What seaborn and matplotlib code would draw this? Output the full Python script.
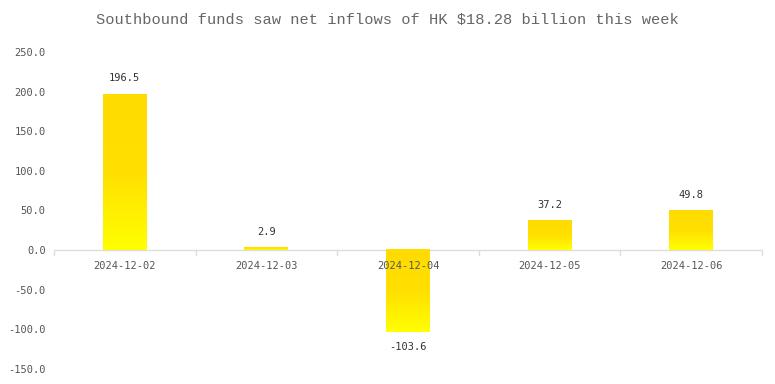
import matplotlib
matplotlib.use("Agg")
import matplotlib.pyplot as plt
import seaborn as sns
import numpy as np
import pandas as pd
from matplotlib.colors import LinearSegmentedColormap

dates = ["2024-12-02", "2024-12-03", "2024-12-04", "2024-12-05", "2024-12-06"]
values = [196.5, 2.9, -103.6, 37.2, 49.8]
yticks = [-150, -100, -50, 0, 50, 100, 150, 200, 250]
title = "Southbound funds saw net inflows of HK $18.28 billion this week"

sns.set_theme(style="white")
plt.rcParams['font.family'] = ['DejaVu Sans Mono']

df = pd.DataFrame({"date": dates, "value": values})
fig = plt.figure(figsize=(7.75, 3.84), dpi=100)
ax = fig.add_axes([54/775, 1-369/384, 708/775, 317/384])
sns.barplot(data=df, x="date", y="value", ax=ax, width=0.31, color="#FFDD00")

cmap = LinearSegmentedColormap.from_list("g", [(0, "#FFFF00"), (0.5, "#FFDF00"), (1, "#FFDC00")])
grad = np.linspace(0, 1, 256).reshape(-1, 1)
for p in ax.patches:
    x0 = p.get_x(); w = p.get_width(); y0 = p.get_y(); h = p.get_height()
    lo, hi = min(y0, y0+h), max(y0, y0+h)
    p.set_facecolor("none"); p.set_edgecolor("none")
    ax.imshow(grad, extent=[x0, x0+w, lo, hi], origin="lower", cmap=cmap,
              aspect="auto", zorder=2, interpolation="bilinear")
ax.set_xlim(-0.5, len(dates)-0.5)
ax.set_ylim(-150, 250)

for i, v in enumerate(values):
    off = 8 if v >= 0 else -7
    ax.annotate(f"{v:.1f}", (i, v), xytext=(0, off), textcoords="offset points",
                ha="center", va="bottom" if v >= 0 else "top", fontsize=7.5, color="#333333")

ax.set_yticks(yticks)
ax.set_yticklabels([f"{t:.1f}" for t in yticks], fontsize=7.5, color="#555555")
ax.tick_params(axis="y", length=0, pad=6)
ax.set_xticks([])
for b in np.arange(-0.5, len(dates), 1):
    ax.plot([b, b], [0, -6], color="#DDDDDD", lw=1, clip_on=False, zorder=1)
ax.axhline(0, color="#DDDDDD", lw=1, zorder=1)
for s in ax.spines.values():
    s.set_visible(False)
ax.set_xlabel(""); ax.set_ylabel("")
ax.grid(False)
fig.text(0.5, 1-20/384, title, ha="center", va="center", fontsize=11.1,
         color="#666666", family=["Liberation Mono"])
for i, d in enumerate(dates):
    ax.annotate(d, (i, 0), xytext=(0, -8), textcoords="offset points",
                ha="center", va="top", fontsize=7.5, color="#555555")
fig.savefig("out.png", dpi=100)
